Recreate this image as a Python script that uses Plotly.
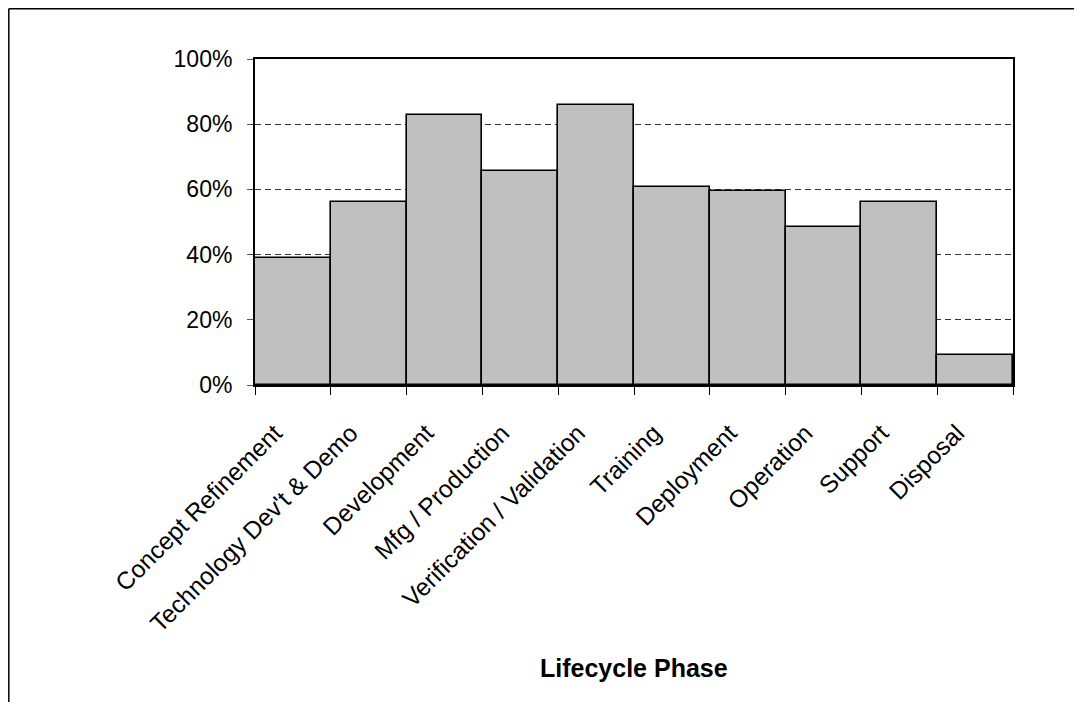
import plotly.graph_objects as go

categories = [
    "Concept Refinement",
    "Technology Dev't & Demo",
    "Development",
    "Mfg / Production",
    "Verification / Validation",
    "Training",
    "Deployment",
    "Operation",
    "Support",
    "Disposal",
]
values = [0.391, 0.560, 0.829, 0.655, 0.859, 0.606, 0.595, 0.485, 0.560, 0.093]
y_ticks = [0, 0.2, 0.4, 0.6, 0.8, 1.0]
x_title = "Lifecycle Phase"

FONT = "Arial, 'Liberation Sans', sans-serif"

# page body has an 8px offset; compensate in margins
OFF = 8
W, H = 1082, 702
L, T, PW, PH = 255 - OFF, 59 - OFF, 758, 326


def px_x(px):
    """figure-pixel x -> paper coordinate"""
    return (px - L) / PW


def px_y(px):
    """figure-pixel y (from top) -> paper coordinate"""
    return (T + PH - px) / PH


fig = go.Figure()
fig.add_trace(go.Bar(
    x=categories,
    y=values,
    marker=dict(color="#C0C0C0", line=dict(color="black", width=1.6)),
    hoverinfo="x+y",
))

frame = dict(color="black", width=1.5)
fig.update_layout(
    width=W,
    height=H,
    margin=dict(l=L, r=W - L - PW, t=T, b=H - T - PH),
    paper_bgcolor="white",
    plot_bgcolor="white",
    bargap=0,
    showlegend=False,
    font=dict(family=FONT, size=23, color="black"),
    shapes=[
        # outer chart-area frame: only its left and top edges are inside the view
        dict(type="line", xref="paper", yref="paper",
             x0=px_x(0.8), x1=px_x(0.8), y0=px_y(H + 20), y1=px_y(0.8),
             line=frame, layer="below"),
        dict(type="line", xref="paper", yref="paper",
             x0=px_x(0.8), x1=px_x(W + 20), y0=px_y(0.8), y1=px_y(0.8),
             line=frame, layer="below"),
    ],
    annotations=[
        dict(
            text="<b>" + x_title + "</b>",
            xref="paper", yref="paper",
            x=0.5, y=px_y(668 - OFF),
            xanchor="center", yanchor="middle",
            showarrow=False,
            font=dict(family=FONT, size=25, color="black"),
        )
    ],
)

fig.update_xaxes(
    type="category",
    tickangle=-45,
    tickson="boundaries",
    ticks="outside",
    ticklen=8,
    tickcolor="black",
    ticklabelstandoff=22,
    ticklabelshift=-18,
    showline=True,
    linecolor="black",
    linewidth=2,
    mirror=True,
    showgrid=False,
    tickfont=dict(family=FONT, size=24.5, color="black"),
)
fig.update_yaxes(
    range=[0, 1],
    tickvals=y_ticks,
    tickformat=".0%",
    ticks="outside",
    ticklen=6,
    tickcolor="#555",
    ticklabelstandoff=10,
    showline=True,
    linecolor="black",
    linewidth=2,
    mirror=True,
    showgrid=True,
    gridcolor="#333",
    gridwidth=1,
    griddash="6px,4px",
    zeroline=False,
    tickfont=dict(family=FONT, size=23, color="black"),
)

fig.write_html("out.html")
